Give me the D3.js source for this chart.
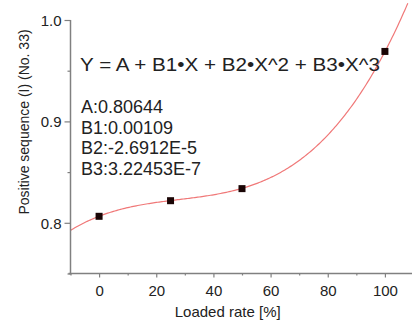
<!DOCTYPE html>
<html><head><meta charset="utf-8">
<script src="https://cdn.jsdelivr.net/npm/d3@7"></script>
<style>html,body{margin:0;padding:0;background:#fff;}svg{display:block;}</style>
</head><body>
<svg id="c" width="412" height="320"></svg>
<script>
const xValues = [0, 25, 50, 100];
const yValues = [0.8064, 0.8218, 0.8337, 0.9690];
const coefNames = ["A", "B1", "B2", "B3"];
const coefLabels = ["0.80644", "0.00109", "-2.6912E-5", "3.22453E-7"];
const coefValues = [0.80644, 0.00109, -2.6912e-5, 3.22453e-7];
const xTicks = [0, 20, 40, 60, 80, 100];
const yTicks = [0.8, 0.9, 1.0];
const equation = "Y = A + B1\u2022X + B2\u2022X^2 + B3\u2022X^3";
const xTitle = "Loaded rate [%]";
const yTitle = "Positive sequence (I) (No. 33)";

const svg = d3.select("#c");
const font = "'Liberation Sans', Arial, sans-serif";
const x = d3.scaleLinear().domain([-10, 110]).range([70.5, 413.5]);
const y = d3.scaleLinear().domain([0.75, 1.0]).range([273.5, 20]);
const axisColor = "#808080";

// fit curve from displayed coefficients
const fit = v => coefValues.reduce((s, c, i) => s + c * Math.pow(v, i), 0);
const curveX = d3.range(-10, 110.01, 0.5);
svg.append("path")
  .datum(curveX.filter(v => fit(v) <= y.invert(0)))
  .attr("fill", "none").attr("stroke", "#f07878").attr("stroke-width", 1.2)
  .attr("d", d3.line().x(d => x(d)).y(d => y(fit(d))));

// axes
const xAxis = d3.axisBottom(x).tickValues(d3.range(-10, 111, 10)).tickSize(4).tickFormat(d => xTicks.includes(d) ? d : "");
const gx = svg.append("g").attr("transform", `translate(0,${y(0.75)})`).call(xAxis);
gx.select(".domain").attr("stroke", axisColor).attr("stroke-width", 1.5).attr("d", `M${x(-10)-2},0H412`);
gx.selectAll(".tick line").attr("stroke", axisColor).attr("stroke-width", 1.2)
  .attr("y2", d => xTicks.includes(d) ? 4 : 2);
gx.selectAll(".tick text").attr("font-family", font).attr("font-size", 15).attr("fill", "#222").attr("dy", "1.0em");

const yAxis = d3.axisLeft(y).tickValues([0.75, 0.8, 0.85, 0.9, 0.95, 1.0]).tickSize(6)
  .tickFormat(d => yTicks.some(t => Math.abs(t - d) < 1e-9) ? d3.format(".1f")(d) : "");
const gy = svg.append("g").attr("transform", `translate(${x(-10)},0)`).call(yAxis);
gy.select(".domain").attr("stroke", axisColor).attr("stroke-width", 1.5).attr("d", `M0,${y(1.0)}V${y(0.75)+1}`);
gy.selectAll(".tick line").attr("stroke", axisColor).attr("stroke-width", 1.2)
  .attr("x2", d => yTicks.some(t => Math.abs(t - d) < 1e-9) ? -6 : -3);
gy.selectAll(".tick text").attr("font-family", font).attr("font-size", 15).attr("fill", "#222").attr("x", -9).attr("dy", "0.35em");

// markers
svg.selectAll("rect.pt").data(xValues.map((v, i) => [v, yValues[i]])).enter().append("rect")
  .attr("class", "pt").attr("x", d => x(d[0]) - 3.5).attr("y", d => y(d[1]) - 3.5)
  .attr("width", 7).attr("height", 7).attr("fill", "#1a0505");

// equation and coefficients
svg.append("text").attr("x", 80).attr("y", 71).attr("font-family", font).attr("font-size", 18)
  .attr("fill", "#222").attr("textLength", 300).attr("lengthAdjust", "spacingAndGlyphs").text(equation);
coefNames.forEach((n, i) => {
  svg.append("text").attr("x", 81).attr("y", 113 + i * 20.5).attr("font-family", font).attr("font-size", 18)
    .attr("fill", "#222").text(n + ":" + coefLabels[i]);
});

// titles
svg.append("text").attr("x", x(45)).attr("y", 317).attr("text-anchor", "middle")
  .attr("font-family", font).attr("font-size", 15).attr("fill", "#222").text(xTitle);
svg.append("text").attr("transform", "translate(29,122) rotate(-90)").attr("text-anchor", "middle")
  .attr("font-family", font).attr("font-size", 14).attr("fill", "#222").text(yTitle);
</script>
</body></html>
